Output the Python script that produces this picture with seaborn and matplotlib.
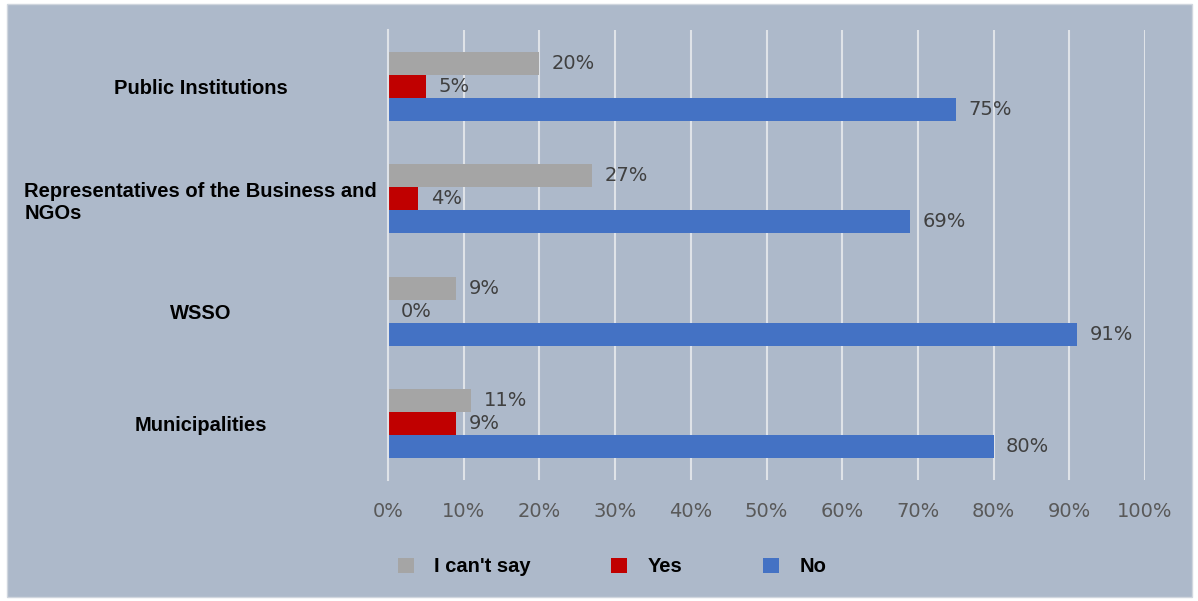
import pandas as pd
import seaborn as sns
import matplotlib.pyplot as plt
from matplotlib.patches import Rectangle, Patch

categories = ["Public Institutions", "Representatives of the Business and\nNGOs", "WSSO", "Municipalities"]
answers = ["I can't say", "Yes", "No"]
cant_say = [20, 27, 9, 11]
yes = [5, 4, 0, 9]
no = [75, 69, 91, 80]
xticks = [0, 10, 20, 30, 40, 50, 60, 70, 80, 90, 100]

colors = {"I can't say": "#a5a5a5", "Yes": "#c00000", "No": "#4472c4"}
bg = "#adb9ca"

rows = []
for i, cat in enumerate(categories):
    rows.append((cat, "I can't say", cant_say[i]))
    rows.append((cat, "Yes", yes[i]))
    rows.append((cat, "No", no[i]))
df = pd.DataFrame(rows, columns=["category", "answer", "value"])

plt.rcParams['font.family'] = ['Liberation Sans', 'DejaVu Sans']

fig = plt.figure(figsize=(11.98, 6.01), dpi=100, facecolor="white")
fig.patches.append(Rectangle((7 / 1198, 4 / 601), 1185 / 1198, 593 / 601,
                             transform=fig.transFigure, facecolor=bg,
                             edgecolor="#d0d6de", linewidth=1, zorder=-10))
ax = fig.add_axes([388 / 1198, 1 - 480 / 601, 757 / 1198, 450 / 601])
ax.set_facecolor(bg)

sns.barplot(data=df, y="category", x="value", hue="answer", hue_order=answers,
            order=categories, orient="h", palette=colors, width=0.615,
            saturation=1, ax=ax, legend=False)

for cont, ans in zip(ax.containers, answers):
    ax.bar_label(cont, labels=[f"{v:.0f}%" for v in cont.datavalues],
                 padding=9, fontsize=14, color="#404040",
                 family="DejaVu Sans")

ax.set_xlim(0, 100)
ax.set_ylim(3.5, -0.5)
ax.set_xticks(xticks)
ax.set_xticklabels([f"{t}%" for t in xticks], fontsize=14, color="#595959",
                   family="DejaVu Sans")
ax.tick_params(axis="x", length=0, pad=16)
ax.tick_params(axis="y", length=0, pad=135)
for lab in ax.get_yticklabels():
    lab.set_ha("center")
    lab.set_multialignment("left")
    lab.set_fontsize(14.5)
    lab.set_fontweight("bold")
    lab.set_color("black")
ax.grid(axis="x", color="#dfe3e8", linewidth=1.5)
ax.set_axisbelow(True)
for s in ["top", "right", "bottom"]:
    ax.spines[s].set_visible(False)
ax.spines["left"].set_color("#dfe3e8")
ax.spines["left"].set_linewidth(1.5)
ax.set_xlabel("")
ax.set_ylabel("")

handles = [Patch(facecolor=colors[a], edgecolor="none") for a in answers]
leg = fig.legend(handles, answers, loc="center", bbox_to_anchor=(612 / 1198, 1 - 567 / 601),
                 ncol=3, frameon=False, handlelength=0.8, handleheight=0.8,
                 columnspacing=4, handletextpad=1,
                 prop={"weight": "bold", "size": 14.5})

fig.savefig("out.png", dpi=100, facecolor="white")
